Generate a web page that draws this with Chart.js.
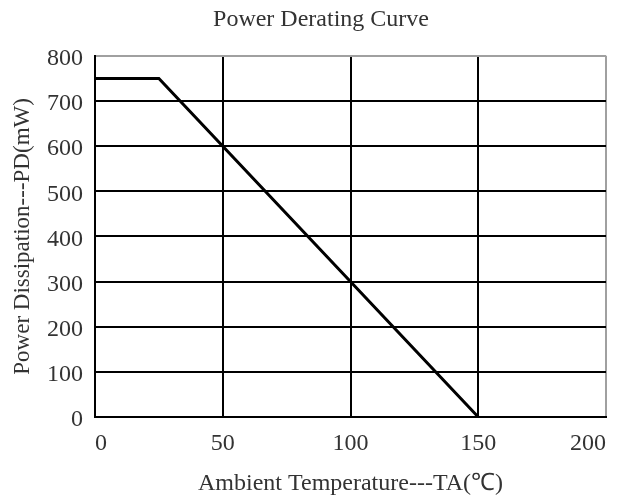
<!DOCTYPE html>
<html>
<head>
<meta charset="utf-8">
<script src="https://cdn.jsdelivr.net/npm/chart.js@4.4.1/dist/chart.umd.min.js"></script>
<style>
  html, body { margin: 0; padding: 0; background: #ffffff; }
  #wrap { width: 621px; height: 504px; position: relative; }
</style>
</head>
<body>
<div id="wrap"><canvas id="c"></canvas></div>
<script>
// ---- data ----
const chartTitle = 'Power Derating Curve';
const xAxisTitle = 'Ambient Temperature---TA(\u2103)';
const yAxisTitle = 'Power Dissipation---PD(mW)';
const temperatures = [0, 25, 150];      // TA (°C)
const powerValues = [750, 750, 0];      // PD (mW)
const xTickValues = [0, 50, 100, 150, 200];
const yTickValues = [0, 100, 200, 300, 400, 500, 600, 700, 800];

const points = temperatures.map((t, i) => ({ x: t, y: powerValues[i] }));
const FONT = "'Liberation Serif', 'Times New Roman', serif";
const TEXT = '#333333';

const edgeGrey = '#a0a0a0';

new Chart(document.getElementById('c'), {
  type: 'line',
  data: {
    datasets: [{
      data: points,
      borderColor: '#000000',
      borderWidth: 3,
      pointRadius: 0,
      fill: false,
      tension: 0
    }]
  },
  options: {
    responsive: true,
    maintainAspectRatio: false,
    animation: false,
    layout: { padding: { left: 36, right: 15, top: 0, bottom: 0 } },
    plugins: {
      legend: { display: false },
      tooltip: { enabled: false },
      title: {
        display: true,
        text: chartTitle,
        color: TEXT,
        font: { family: FONT, size: 24, weight: 'normal' },
        padding: { top: 5, bottom: 22 }
      }
    },
    scales: {
      x: {
        type: 'linear',
        min: xTickValues[0],
        max: xTickValues[xTickValues.length - 1],
        afterBuildTicks: s => { s.ticks = xTickValues.map(v => ({ value: v })); },
        afterFit: s => { s.height = 87; },
        ticks: {
          align: 'inner',
          padding: 12,
          color: TEXT,
          font: { family: FONT, size: 24 }
        },
        grid: {
          drawTicks: false,
          lineWidth: 2,
          color: c => (c.tick && c.tick.value === 200) ? edgeGrey : '#000000'
        },
        border: { display: true, color: '#000000', width: 2 },
        title: {
          display: true,
          text: xAxisTitle,
          color: TEXT,
          font: { family: FONT, size: 24 },
          padding: { top: 0, bottom: 6 }
        }
      },
      y: {
        type: 'linear',
        min: yTickValues[0],
        max: yTickValues[yTickValues.length - 1],
        afterBuildTicks: s => { s.ticks = yTickValues.map(v => ({ value: v })); },
        afterFit: s => { s.width = 59; },
        ticks: {
          padding: 12,
          labelOffset: 3,
          color: TEXT,
          font: { family: FONT, size: 24 }
        },
        grid: {
          drawTicks: false,
          lineWidth: 2,
          color: c => (c.tick && c.tick.value === 800) ? edgeGrey : '#000000'
        },
        border: { display: true, color: '#000000', width: 2 },
        title: {
          display: true,
          text: yAxisTitle,
          color: TEXT,
          font: { family: FONT, size: 23 },
          padding: { top: -27, bottom: 0 }
        }
      }
    }
  }
});
</script>
</body>
</html>
